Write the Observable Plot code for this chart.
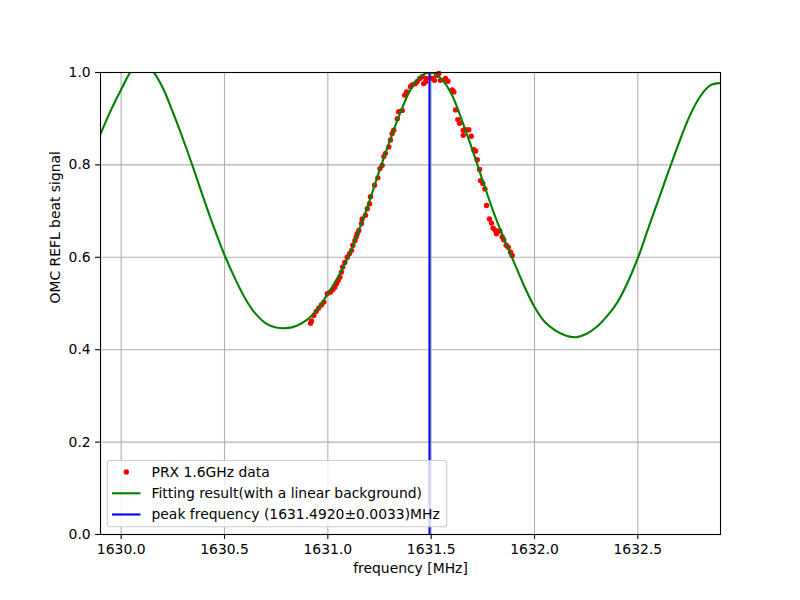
<!DOCTYPE html>
<html><head><meta charset="utf-8">
<script src="https://cdn.jsdelivr.net/npm/d3@7"></script>
<script src="https://cdn.jsdelivr.net/npm/@observablehq/plot@0.6"></script>
<style>body{margin:0;background:#fff;} svg{font-family:"DejaVu Sans";}</style>
</head><body><div id="chart"></div>
<script>
// measured data (PRX 1.6GHz data)
const dataFreq = [1630.916,1630.921,1630.932,1630.944,1630.956,1630.969,1630.981,1630.997,1631.013,1631.024,
1631.034,1631.042,1631.050,1631.058,1631.066,1631.072,1631.082,1631.094,1631.105,1631.115,
1631.121,1631.131,1631.137,1631.142,1631.150,1631.163,1631.166,1631.182,1631.191,1631.202,
1631.206,1631.226,1631.242,1631.252,1631.263,1631.271,1631.279,1631.295,1631.303,1631.311,
1631.319,1631.336,1631.343,1631.360,1631.372,1631.381,1631.400,1631.408,1631.424,1631.432,
1631.445,1631.457,1631.464,1631.473,1631.477,1631.505,1631.516,1631.526,1631.537,1631.545,
1631.569,1631.581,1631.602,1631.610,1631.618,1631.629,1631.637,1631.655,1631.655,1631.666,
1631.682,1631.694,1631.706,1631.715,1631.723,1631.734,1631.739,1631.750,1631.760,1631.768,
1631.782,1631.792,1631.800,1631.811,1631.816,1631.832,1631.844,1631.851,1631.863,1631.873,
1631.884,1631.892];
const dataSignal = [0.457,0.462,0.474,0.483,0.490,0.497,0.503,0.521,0.525,0.530,
0.535,0.543,0.550,0.557,0.568,0.579,0.589,0.600,0.608,0.615,
0.626,0.636,0.644,0.651,0.658,0.673,0.683,0.691,0.705,0.716,
0.731,0.756,0.772,0.792,0.799,0.818,0.825,0.839,0.854,0.868,
0.875,0.900,0.915,0.918,0.951,0.958,0.969,0.973,0.976,0.980,
0.987,0.991,0.976,0.980,0.987,0.987,0.983,0.994,0.998,0.983,
0.987,0.981,0.962,0.958,0.919,0.898,0.890,0.875,0.864,0.876,
0.876,0.862,0.833,0.830,0.811,0.790,0.766,0.760,0.748,0.712,
0.683,0.674,0.663,0.658,0.651,0.657,0.644,0.638,0.626,0.622,
0.611,0.604];

// fitted curve
const fitFreq = [1629.90,1629.95,1630.00,1630.05,1630.10,1630.15,1630.20,1630.25,1630.30,1630.35,
1630.40,1630.45,1630.50,1630.55,1630.60,1630.65,1630.70,1630.75,1630.80,1630.85,
1630.90,1630.95,1631.00,1631.05,1631.10,1631.15,1631.20,1631.25,1631.30,1631.35,
1631.40,1631.45,1631.50,1631.55,1631.60,1631.65,1631.70,1631.75,1631.80,1631.85,
1631.90,1631.95,1632.00,1632.05,1632.10,1632.15,1632.20,1632.25,1632.30,1632.35,
1632.40,1632.45,1632.50,1632.55,1632.60,1632.65,1632.70,1632.75,1632.80,1632.85,1632.90];
const fitSignal = [0.867,0.918,0.963,1.003,1.016,1.004,0.968,0.914,0.855,0.792,
0.726,0.663,0.605,0.555,0.511,0.478,0.457,0.448,0.4466,0.452,
0.465,0.488,0.521,0.558,0.602,0.658,0.720,0.788,0.852,0.912,
0.963,0.992,1.000,0.986,0.952,0.895,0.832,0.765,0.700,0.643,
0.590,0.538,0.4925,0.460,0.442,0.431,0.427,0.434,0.449,0.472,
0.502,0.545,0.598,0.662,0.725,0.788,0.849,0.905,0.947,0.972,0.977];

const peakFrequency = 1631.492;
const xTicks = [1630.0, 1630.5, 1631.0, 1631.5, 1632.0, 1632.5];
const yTicks = [0.0, 0.2, 0.4, 0.6, 0.8, 1.0];
const legendLabels = ["PRX 1.6GHz data", "Fitting result(with a linear background)", "peak frequency (1631.4920\u00b10.0033)MHz"];

const points = dataFreq.map((f, i) => ({f, v: dataSignal[i]}));
const fit = fitFreq.map((f, i) => ({f, v: fitSignal[i]}));

const FS = 13.9;
const chart = Plot.plot({
  width: 800, height: 600,
  marginLeft: 100, marginRight: 80, marginTop: 72, marginBottom: 66,
  style: {fontFamily: "DejaVu Sans", fontSize: FS + "px", background: "white", color: "black"},
  x: {domain: [1629.9, 1632.9]},
  y: {domain: [0, 1]},
  marks: [
    Plot.gridX(xTicks, {stroke: "#b0b0b0", strokeOpacity: 1, strokeWidth: 1.1}),
    Plot.gridY(yTicks, {stroke: "#b0b0b0", strokeOpacity: 1, strokeWidth: 1.1}),
    Plot.dot(points, {x: "f", y: "v", r: 2.7, fill: "red", stroke: "none"}),
    Plot.line(fit, {x: "f", y: "v", stroke: "green", strokeWidth: 2.1, curve: "catmull-rom", clip: true}),
    Plot.ruleX([peakFrequency], {y1: 0, y2: 1, stroke: "blue", strokeWidth: 2.1}),
    Plot.frame({stroke: "black", strokeWidth: 1.1}),
    Plot.axisX(xTicks, {tickFormat: d => d.toFixed(1), tickSize: 4.9, tickPadding: 4.9, strokeWidth: 1.1, label: null, fontSize: FS}),
    Plot.axisY(yTicks, {tickFormat: d => d.toFixed(1), tickSize: 4.9, tickPadding: 4.9, strokeWidth: 1.1, label: null, fontSize: FS}),
    Plot.text(["frequency [MHz]"], {frameAnchor: "bottom", dy: 38, fontSize: FS, fill: "black"}),
    Plot.text(["OMC REFL beat signal"], {frameAnchor: "left", dx: -45, rotate: -90, fontSize: FS, fill: "black"})
  ]
});
document.getElementById("chart").appendChild(chart);

// legend (drawn over the plot, like matplotlib)
const svg = d3.select(chart);
const lg = svg.append("g").attr("font-family", "DejaVu Sans").attr("font-size", FS).attr("text-anchor", "start");
lg.append("rect").attr("x", 107.3).attr("y", 460.5).attr("width", 339.4).attr("height", 66.3)
  .attr("rx", 2.8).attr("fill", "white").attr("fill-opacity", 0.8).attr("stroke", "#cccccc").attr("stroke-width", 1.1);
const rowY = [472, 493.3, 514.5];
lg.append("circle").attr("cx", 126.3).attr("cy", rowY[0]).attr("r", 2.7).attr("fill", "red");
lg.append("line").attr("x1", 112).attr("x2", 140.5).attr("y1", rowY[1]).attr("y2", rowY[1]).attr("stroke", "green").attr("stroke-width", 2.1);
lg.append("line").attr("x1", 112).attr("x2", 140.5).attr("y1", rowY[2]).attr("y2", rowY[2]).attr("stroke", "blue").attr("stroke-width", 2.1);
legendLabels.forEach((t, i) => {
  lg.append("text").attr("x", 151.5).attr("y", rowY[i]).attr("dy", "0.35em")
    .attr("text-anchor", "start").attr("fill", "black").text(t);
});
</script>
</body></html>
